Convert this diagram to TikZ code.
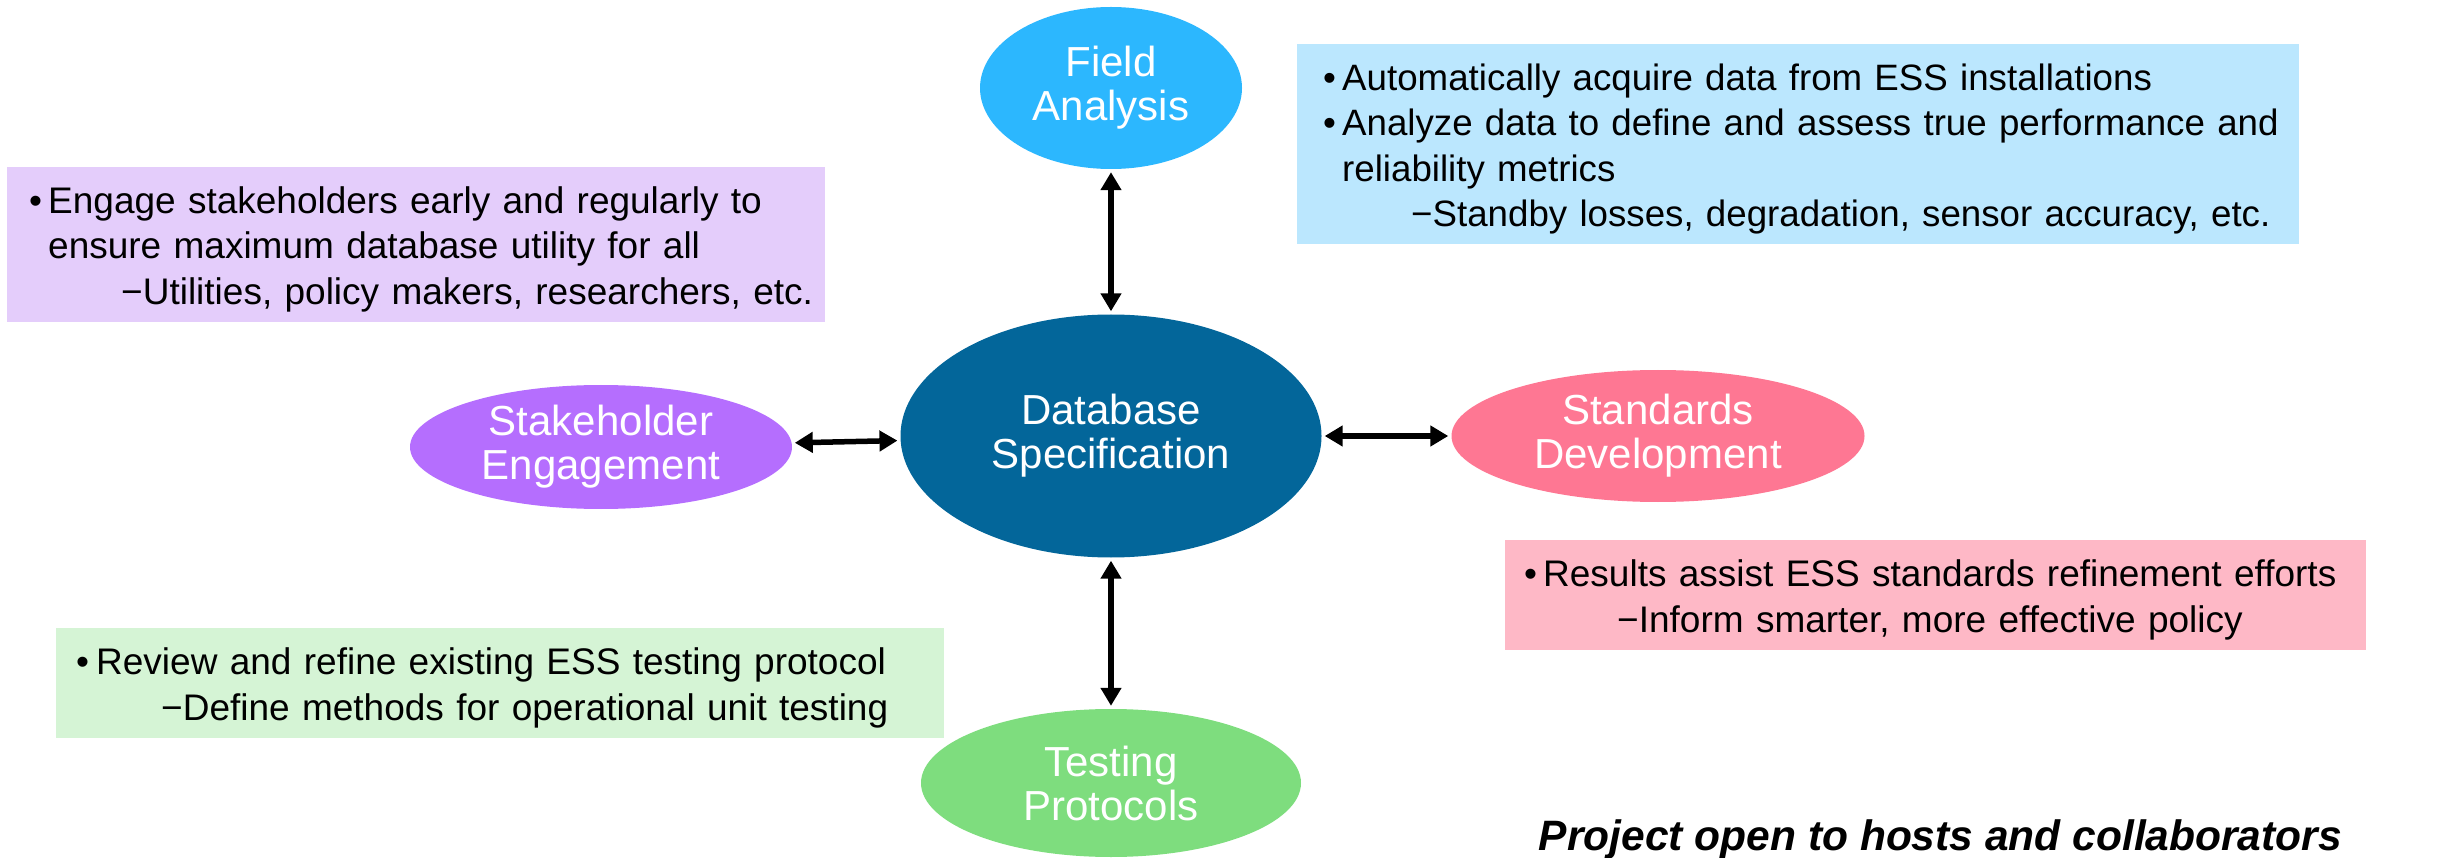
\documentclass[tikz,border=0pt]{standalone}
\usepackage{fontspec}
\setmainfont{Liberation Sans}
\usepackage{tikz}
\usetikzlibrary{shapes.geometric,arrows.meta}
\definecolor{dbsky}{HTML}{2CB7FE}
\definecolor{dbskylt}{HTML}{BBE7FE}
\definecolor{dbviolet}{HTML}{B56EFE}
\definecolor{dbvioletlt}{HTML}{E4CDFB}
\definecolor{dbnavy}{HTML}{03669A}
\definecolor{dbrose}{HTML}{FE7793}
\definecolor{dbroselt}{HTML}{FEB8C6}
\definecolor{dbleaf}{HTML}{7EDD7E}
\definecolor{dbleaflt}{HTML}{D5F4D5}
\newcommand{\notebullet}[1]{\rule{0pt}{36pt}\makebox[#1][l]{\textbullet}}

\begin{document}
\begin{tikzpicture}[x=1pt, y=-1pt,
  hub/.style={ellipse, inner sep=0pt, text=white, align=center, font=\fontsize{42}{44}\selectfont},
  note/.style={anchor=north west, inner sep=0pt, align=left, font=\fontsize{37}{45.5}\selectfont},
  link/.style={{Triangle[width=20pt,length=18pt]}-{Triangle[width=20pt,length=18pt]}, line width=5.5pt, shorten <=3pt, shorten >=3pt}]
  \useasboundingbox (0,0) rectangle (2453,858);
  % hubs
  \node[hub, fill=dbsky, minimum width=262pt, minimum height=162pt] (field) at (1111,88) {Field\\Analysis};
  \node[hub, fill=dbnavy, minimum width=421pt, minimum height=243pt] (spec) at (1111,436) {Database\\Specification};
  \node[hub, fill=dbviolet, minimum width=382pt, minimum height=124pt] (stake) at (601,447) {Stakeholder\\Engagement};
  \node[hub, fill=dbrose, minimum width=413pt, minimum height=132pt] (stand) at (1658,436) {Standards\\Development};
  \node[hub, fill=dbleaf, minimum width=380pt, minimum height=148pt] (test) at (1111,783) {Testing\\Protocols};
  % notes
  \node[note, fill=dbskylt, text width=1002pt, minimum height=200pt, font=\fontsize{36.7}{45.5}\selectfont] (fieldnote) at (1297,44)
    {\hspace*{26pt}\notebullet{19pt}Automatically acquire data from ESS installations\\
     \hspace*{26pt}\notebullet{19pt}Analyze data to define and assess true performance and\\
     \hspace*{45pt}reliability metrics\\
     \hspace*{114pt}−Standby losses, degradation, sensor accuracy, etc.};
  \node[note, fill=dbvioletlt, text width=818pt, minimum height=155pt] (stakenote) at (7,167)
    {\hspace*{22pt}\notebullet{19pt}Engage stakeholders early and regularly to\\
     \hspace*{41pt}ensure maximum database utility for all\\
     \hspace*{114pt}−Utilities, policy makers, researchers, etc.};
  \node[note, fill=dbroselt, text width=861pt, minimum height=110pt] (standnote) at (1505,540)
    {\hspace*{19pt}\notebullet{19pt}Results assist ESS standards refinement efforts\\
     \hspace*{112pt}−Inform smarter, more effective policy};
  \node[note, fill=dbleaflt, text width=888pt, minimum height=110pt] (testnote) at (56,628)
    {\hspace*{20pt}\notebullet{20pt}Review and refine existing ESS testing protocol\\
     \hspace*{105pt}−Define methods for operational unit testing};
  \node[anchor=base east, inner sep=0pt, font=\fontsize{42.5}{44}\selectfont\bfseries\itshape] (openline) at (2342,850)
    {Project open to hosts and collaborators};
  % connectors
  \draw[link] (field) -- (spec);
  \draw[link] (stake) -- (spec);
  \draw[link] (spec) -- (stand);
  \draw[link] (spec) -- (test);
\end{tikzpicture}
\end{document}
